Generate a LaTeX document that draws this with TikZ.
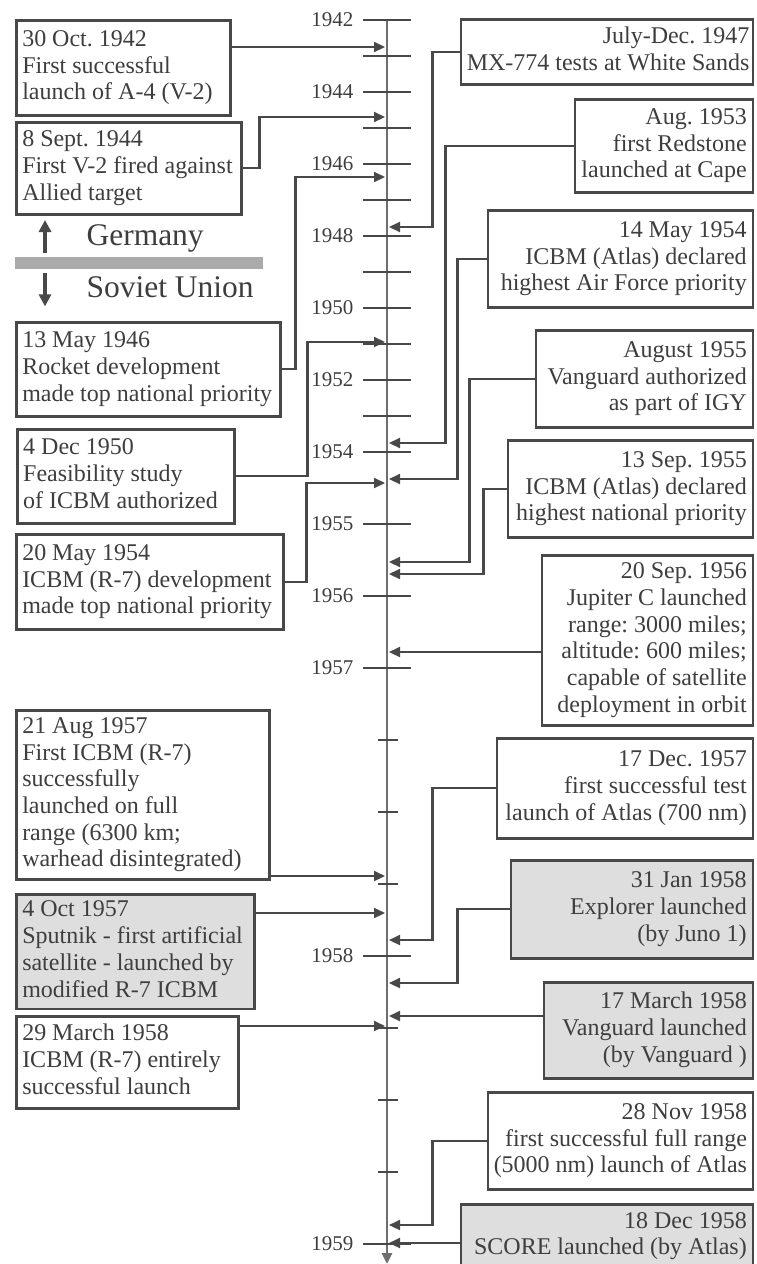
\documentclass[tikz,border=0pt]{standalone}
\usepackage{fontspec}
\setmainfont{Liberation Serif}
\usetikzlibrary{arrows.meta,positioning,calc}
\definecolor{linegray}{RGB}{72,72,72}
\definecolor{axisgray}{RGB}{110,110,110}
\definecolor{textgray}{RGB}{62,62,62}
\definecolor{boxgray}{RGB}{222,222,222}
\definecolor{bargray}{RGB}{170,170,170}

% box texts: one unbreakable block per box
\newcommand{\lftlines}[1]{\begin{tabular}{@{}l@{}}#1\end{tabular}}
\newcommand{\rgtlines}[1]{\begin{tabular}{@{}r@{}}#1\end{tabular}}

\tikzset{
  evbox/.style={draw=linegray, line width=2.5pt, fill=white, text=textgray,
    font=\fontsize{24}{26.7}\selectfont\frenchspacing, inner ysep=4pt},
  lbox/.style={evbox, align=flush left, inner xsep=6pt, anchor=north west},
  rbox/.style={evbox, align=flush right, inner xsep=6pt, anchor=north east},
  hilite/.style={fill=boxgray},
  conn/.style={draw=linegray, line width=2.2pt, -{Triangle[length=11pt,width=10pt]}},
  bigarrow/.style={draw=linegray, line width=3.5pt, -{Triangle[length=12pt,width=12pt]}},
  majtick/.style={draw=linegray, line width=2.4pt},
  mintick/.style={draw=linegray, line width=2.2pt},
  yearlbl/.style={anchor=east, text=textgray, font=\fontsize{21}{24}\selectfont},
}

\begin{document}
\begin{tikzpicture}[x=1pt, y=-1pt]
    \clip (0,0) rectangle (756,1264);

    % time axis
    \coordinate (axtop) at (387,20);
    \coordinate (axbot) at (387,1264);
    \draw[draw=axisgray, line width=2.8pt, -{Triangle[length=11pt,width=10pt]}] (axtop) -- (axbot);
    \foreach \k in {0,...,12}
        \draw[majtick] (363,{20+36*\k}) -- (411,{20+36*\k});
    \foreach \yy in {524,596,668,956,1244}
        \draw[majtick] (363,\yy) -- (411,\yy);
    \foreach \yy in {740,812,884,1028,1100,1172}
        \draw[mintick] (378,\yy) -- (398,\yy);
    \foreach \yr/\yy in {1942/20,1944/92,1946/164,1948/236,1950/308,1952/380,1954/452,
                         1955/524,1956/596,1957/668,1958/956,1959/1244}
        \node[yearlbl] (y\yr) at (357,\yy) {\yr};

    % Germany / Soviet Union divider
    \node[fill=bargray, minimum width=248pt, minimum height=12pt, inner sep=0pt,
          anchor=north west] (divider) at (15,257) {};
    \draw[bigarrow] ([xshift=30pt,yshift=4pt]divider.north west) -- ++(0,-33);
    \draw[bigarrow] ([xshift=30pt,yshift=-4pt]divider.south west) -- ++(0,33);
    \node[anchor=base west, text=textgray, font=\fontsize{31.5}{36}\selectfont] (ger) at (83,245) {Germany};
    \node[anchor=base west, text=textgray, font=\fontsize{31.5}{36}\selectfont] (sov) at (83,297) {Soviet Union};

    % left side events
    \node[lbox, text width=202pt, minimum height=95pt] (oct42) at (15,19)
        {\lftlines{30 Oct. 1942\\First successful\\launch of A-4 (V-2)}};
    \node[lbox, text width=213pt, minimum height=92pt] (sep44) at (15,121)
        {\lftlines{8 Sept. 1944\\First V-2 fired against\\Allied target}};
    \node[lbox, text width=252pt, minimum height=94pt] (may46) at (15,321)
        {\lftlines{13 May 1946\\Rocket development\\made top national priority}};
    \node[lbox, text width=205pt, minimum height=94pt] (dec50) at (16,428)
        {\lftlines{4 Dec 1950\\Feasibility study\\of ICBM authorized}};
    \node[lbox, text width=255pt, minimum height=95pt] (may54) at (15,533)
        {\lftlines{20 May 1954\\ICBM (R-7) development\\made top national priority}};
    \node[lbox, text width=241pt, minimum height=169pt] (aug57) at (15,709)
        {\lftlines{21 Aug 1957\\First ICBM (R-7)\\successfully\\launched on full\\range (6300 km;\\warhead disintegrated)}};
    \node[lbox, hilite, text width=226pt, minimum height=114pt] (oct57) at (15,893)
        {\lftlines{4 Oct 1957\\Sputnik - first artificial\\satellite - launched by\\modified R-7 ICBM}};
    \node[lbox, text width=210pt, minimum height=92pt] (mar58) at (15,1015)
        {\lftlines{29 March 1958\\ICBM (R-7) entirely\\successful launch}};

    % right side events
    \node[rbox, text width=280pt, minimum height=65pt] (jul47) at (754,18)
        {\rgtlines{July-Dec. 1947\\MX-774 tests at White Sands}};
    \node[rbox, text width=166pt, minimum height=93pt] (aug53) at (754,98)
        {\rgtlines{Aug. 1953\\first Redstone\\launched at Cape}};
    \node[rbox, text width=253pt, minimum height=97pt] (atl54) at (754,209)
        {\rgtlines{14 May 1954\\ICBM (Atlas) declared\\highest Air Force priority}};
    \node[rbox, text width=205pt, minimum height=97pt] (aug55) at (754,329)
        {\rgtlines{August 1955\\Vanguard authorized\\as part of IGY}};
    \node[rbox, text width=233pt, minimum height=97pt] (sep55) at (754,439)
        {\rgtlines{13 Sep. 1955\\ICBM (Atlas) declared\\highest national priority}};
    \node[rbox, text width=199pt, minimum height=170pt] (sep56) at (754,554)
        {\rgtlines{20 Sep. 1956\\Jupiter C launched\\range: 3000 miles;\\altitude: 600 miles;\\capable of satellite\\deployment in orbit}};
    \node[rbox, text width=244pt, minimum height=100pt] (dec57) at (754,737)
        {\rgtlines{17 Dec. 1957\\first successful test\\launch of Atlas (700 nm)}};
    \node[rbox, hilite, text width=230pt, minimum height=98pt] (jan58) at (754,859)
        {\rgtlines{31 Jan 1958\\Explorer launched\\(by Juno 1)}};
    \node[rbox, hilite, text width=197pt, minimum height=96pt] (van58) at (754,981)
        {\rgtlines{17 March 1958\\Vanguard launched\\(by Vanguard )}};
    \node[rbox, text width=253pt, minimum height=97pt] (nov58) at (754,1091)
        {\rgtlines{28 Nov 1958\\first successful full range\\(5000 nm) launch of Atlas}};
    \node[rbox, hilite, text width=280pt, minimum height=64pt] (dec58) at (754,1203)
        {\rgtlines{18 Dec 1958\\SCORE launched (by Atlas)}};

    % points on the axis
    \coordinate (toct42) at (385,47);
    \coordinate (tsep44) at (385,117);
    \coordinate (tmay46) at (385,177);
    \coordinate (tdec50) at (385,342);
    \coordinate (tmay54) at (385,483);
    \coordinate (taug57) at (385,876);
    \coordinate (toct57) at (385,913);
    \coordinate (tmar58) at (385,1026);
    \coordinate (tjul47) at (389,227);
    \coordinate (taug53) at (389,443);
    \coordinate (tatl54) at (389,479);
    \coordinate (taug55) at (389,562);
    \coordinate (tsep55) at (389,574);
    \coordinate (tsep56) at (389,652);
    \coordinate (tdec57) at (389,940);
    \coordinate (tjan58) at (389,983);
    \coordinate (tvan58) at (389,1016);
    \coordinate (tnov58) at (389,1225);
    \coordinate (tdec58) at (389,1243);

    % connectors from the left
    \draw[conn] (toct42 -| oct42.east) -- (toct42);
    \draw[conn] (sep44.east) -- ++(17,0) |- (tsep44);
    \draw[conn] (may46.east) -- ++(14,0) |- (tmay46);
    \draw[conn] (dec50.east) -- ++(72,0) |- (tdec50);
    \draw[conn] (may54.east) -- ++(22,0) |- (tmay54);
    \draw[conn] (taug57 -| aug57.east) -- (taug57);
    \draw[conn] (toct57 -| oct57.east) -- (toct57);
    \draw[conn] (tmar58 -| mar58.east) -- (tmar58);

    % connectors from the right
    \draw[conn] (jul47.west) -- ++(-27,0) |- (tjul47);
    \draw[conn] (aug53.west) -- ++(-128,0) |- (taug53);
    \draw[conn] (atl54.west) -- ++(-29,0) |- (tatl54);
    \draw[conn] (aug55.west) -- ++(-65,0) |- (taug55);
    \draw[conn] (sep55.west) -- ++(-23,0) |- (tsep55);
    \draw[conn] (tsep56 -| sep56.west) -- (tsep56);
    \draw[conn] (dec57.west) -- ++(-63,0) |- (tdec57);
    \draw[conn] (jan58.west) -- ++(-52,0) |- (tjan58);
    \draw[conn] (tvan58 -| van58.west) -- (tvan58);
    \draw[conn] (nov58.west) -- ++(-54,0) |- (tnov58);
    \draw[conn] (tdec58 -| dec58.west) -- (tdec58);
\end{tikzpicture}
\end{document}
